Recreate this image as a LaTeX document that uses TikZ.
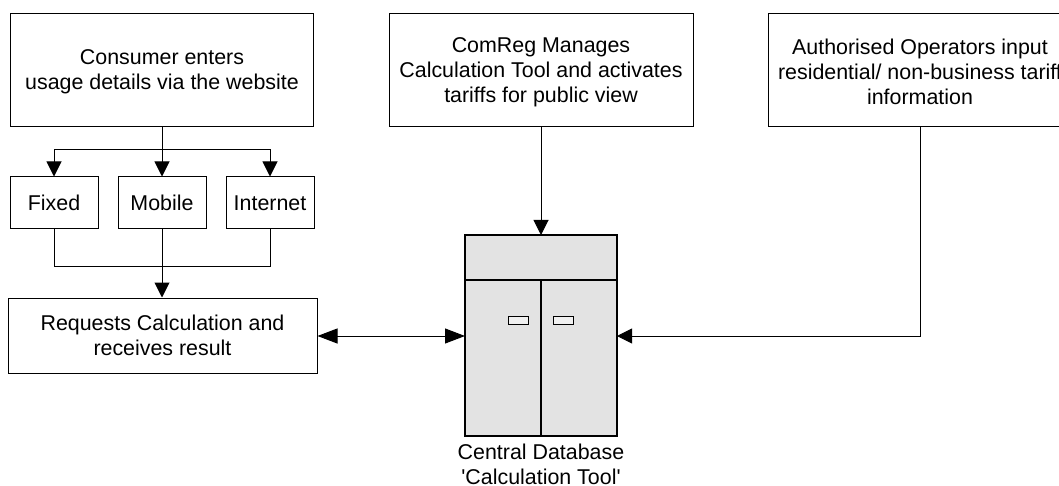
\documentclass[tikz,border=0pt]{standalone}
\usepackage{fontspec}
\setmainfont{Liberation Sans}
\usetikzlibrary{positioning,arrows.meta}
\newcommand{\lift}{\rule{0pt}{18.3pt}}

\begin{document}
\begin{tikzpicture}[x=1pt, y=-1pt, node distance=19pt, font=\fontsize{21.4}{25}\selectfont]
    \tikzstyle{block} = [rectangle, draw, align=center, inner sep=0pt, line width=1pt]
    \tikzstyle{top} = [block, minimum width=304pt, minimum height=113pt]
    \tikzstyle{choice} = [block, minimum width=88pt, minimum height=52pt]
    \tikzstyle{line} = [draw, line width=1pt]
    \tikzstyle{arrow} = [line, -{Triangle[length=15pt, width=15pt]}]
    \tikzstyle{both} = [line, {Triangle[length=20pt, width=15pt]}-{Triangle[length=20pt, width=15pt]}]
    \tikzstyle{cabinet} = [rectangle, draw, fill=black!11, line width=2pt, inner sep=0pt, outer sep=0pt]
    \tikzstyle{handle} = [rectangle, draw, fill=black!6, line width=1pt, inner sep=0pt, minimum width=20pt, minimum height=7.5pt]

    \useasboundingbox (0,0) rectangle (1059,486);

    \node [top, minimum width=303pt] (consumer) at (162,70.5) {\lift Consumer enters\\usage details via the website};
    \node [top] (comreg) at (541,70.5) {\lift ComReg Manages\\Calculation Tool and activates\\tariffs for public view};
    \node [top] (operators) at (920,70.5) {\lift Authorised Operators input~\\residential/ non-business tariff\\information};

    \node [choice] (mobile) at (162,203) {Mobile};
    \node [choice, left=of mobile] (fixed) {Fixed};
    \node [choice, right=of mobile] (internet) {Internet};
    \node [block, minimum width=309pt, minimum height=75pt] (requests) at (162.5,335.5) {Requests Calculation and\\receives result};

    % cabinet
    \node [cabinet, minimum width=152pt, minimum height=45pt] (head) at (541,257.5) {};
    \node [cabinet, minimum width=76pt, minimum height=156pt, anchor=north east] (doorl) at (head.south) {};
    \node [cabinet, minimum width=76pt, minimum height=156pt, anchor=north west] (doorr) at (head.south) {};
    \node [handle] (handlel) at (518,320.5) {};
    \node [handle] (handler) at (563,320.5) {};
    \node [below=7.5pt of doorl.south east, align=center, inner sep=0pt] (database) {Central Database\\\textquotesingle Calculation Tool\textquotesingle};

    \coordinate (split) at (consumer.south |- 0,150);
    \coordinate (merge) at (mobile.south |- 0,266);
    \coordinate (portl) at (465,336);
    \coordinate (portr) at (617,336);

    \path [arrow] (consumer.south) -- (mobile.north);
    \path [arrow] (split) -| (fixed.north);
    \path [arrow] (split) -| (internet.north);
    \path [line] (fixed.south) |- (merge);
    \path [line] (internet.south) |- (merge);
    \path [arrow] (mobile.south) -- (mobile.south |- requests.north);
    \path [arrow] (comreg.south) -- (head.north);
    \path [both] (requests.east |- portl) -- (portl);
    \path [arrow] (operators.south) |- (portr);
\end{tikzpicture}
\end{document}
